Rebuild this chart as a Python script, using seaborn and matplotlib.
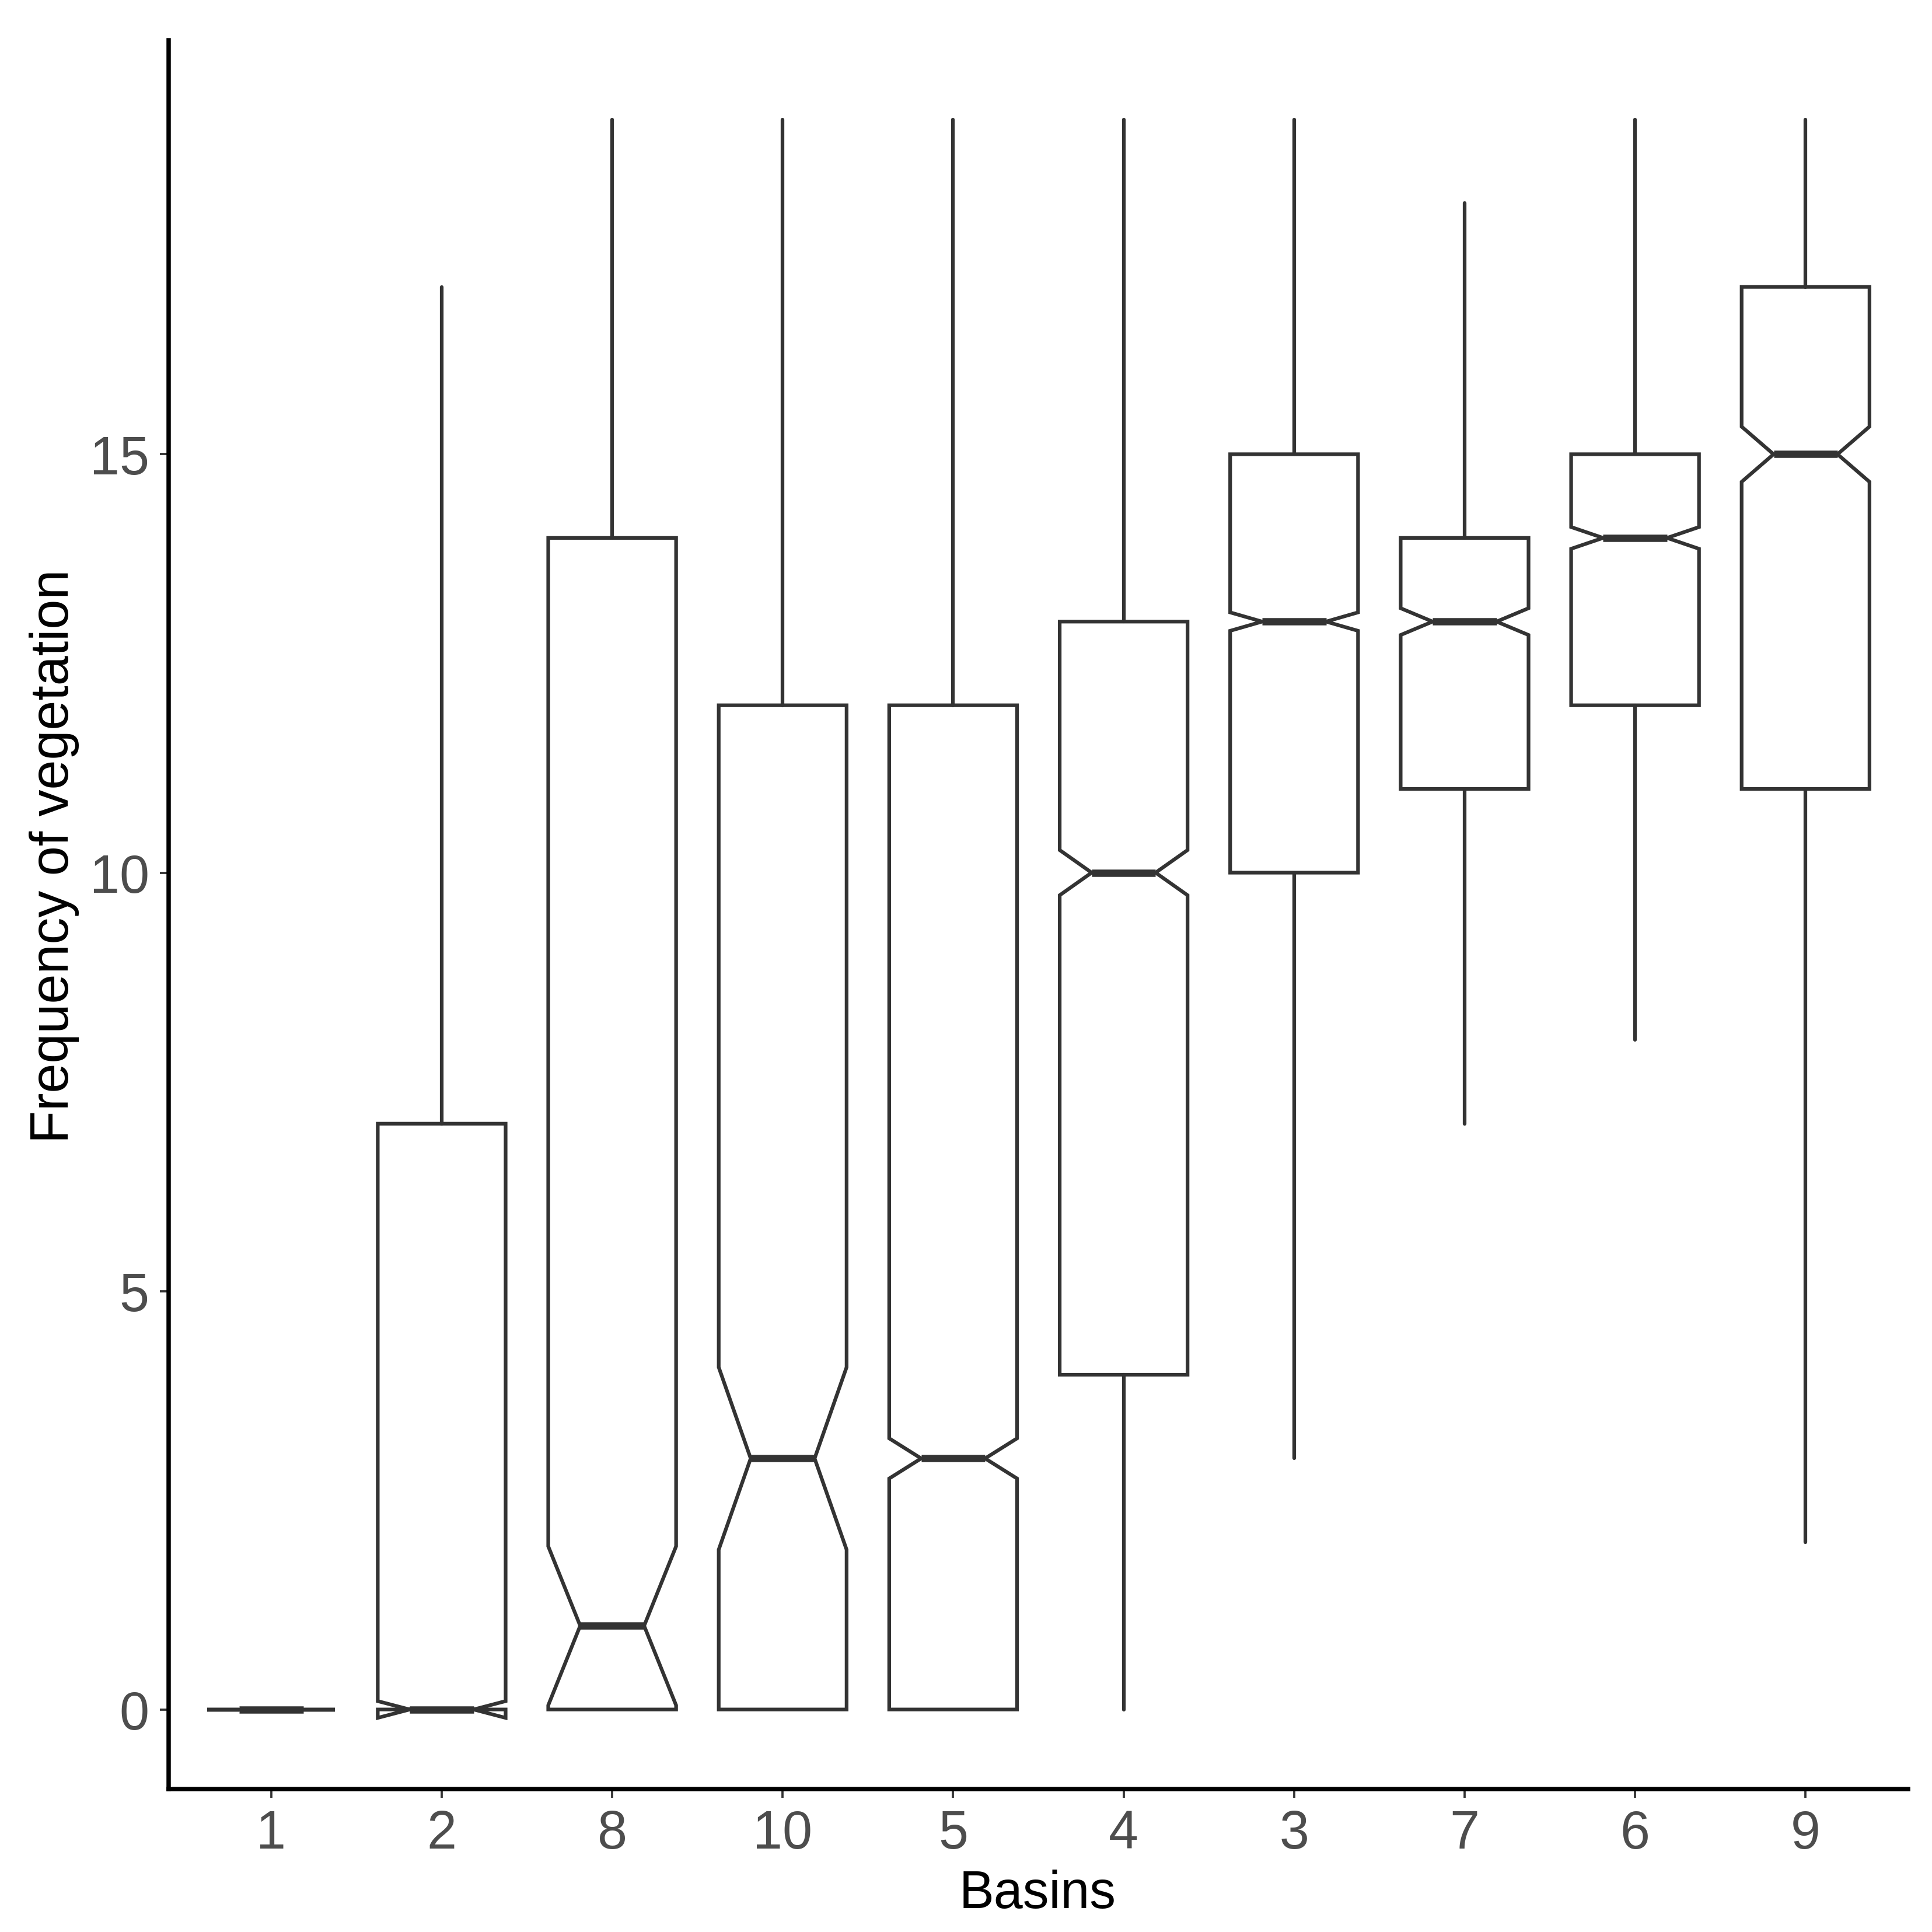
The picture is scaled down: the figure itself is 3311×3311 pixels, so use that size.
import numpy as np
import pandas as pd
import matplotlib
matplotlib.use("Agg")
import matplotlib.pyplot as plt
import seaborn as sns

# summary statistics (basins ordered by median)
basins = ["1", "2", "8", "10", "5", "4", "3", "7", "6", "9"]
q1 = [0, 0, 0, 0, 0, 4, 10, 11, 12, 11]
med = [0, 0, 1, 3, 3, 10, 13, 13, 14, 15]
q3 = [0, 7, 14, 12, 12, 13, 15, 14, 15, 17]
whislo = [0, 0, 0, 0, 0, 0, 3, 7, 8, 2]
whishi = [0, 17, 19, 19, 19, 19, 19, 18, 19, 19]
notch_half = [0.0, 0.1, 0.95, 1.09, 0.24, 0.27, 0.11, 0.16, 0.13, 0.33]

stats = pd.DataFrame({
    "Basin": basins, "q1": q1, "med": med, "q3": q3,
    "whislo": whislo, "whishi": whishi, "notch": notch_half,
})
stats["cilo"] = stats["med"] - stats["notch"]
stats["cihi"] = stats["med"] + stats["notch"]

sns.set_theme(style="ticks")
narrow = ["Liberation Sans Narrow", "DejaVu Sans Condensed", "Liberation Sans", "DejaVu Sans"]
plt.rcParams["font.family"] = narrow

fig = plt.figure(figsize=(11.04, 11.04), dpi=300)
ax = fig.add_axes([0.0874, 0.074, 0.8998, 0.905])

bxp_stats = [
    {"label": r.Basin, "q1": r.q1, "med": r.med, "q3": r.q3,
     "whislo": r.whislo, "whishi": r.whishi,
     "cilo": r.cilo, "cihi": r.cihi, "fliers": []}
    for r in stats.itertuples()
]

line_col = "#333333"
ax.bxp(
    bxp_stats,
    positions=np.arange(1, len(basins) + 1),
    widths=0.75,
    shownotches=True,
    showcaps=False,
    showfliers=False,
    patch_artist=True,
    boxprops=dict(facecolor="white", edgecolor=line_col, linewidth=1.5, joinstyle="miter"),
    whiskerprops=dict(color=line_col, linewidth=1.5),
    medianprops=dict(color=line_col, linewidth=3.0, solid_capstyle="butt"),
)

ax.set_xlim(0.4, 10.6)
ax.set_ylim(-0.95, 19.95)
ax.set_yticks([0, 5, 10, 15])
ax.set_xticks(np.arange(1, len(basins) + 1))
ax.set_xticklabels(basins)
sns.despine(ax=ax)
for side in ["left", "bottom"]:
    ax.spines[side].set_color("black")
    ax.spines[side].set_linewidth(1.8)
ax.tick_params(axis="both", colors=line_col, labelcolor="#4D4D4D",
               labelsize=22, length=3.6, width=0.9, pad=4.5)

fig.text(0.537, 0.0198, "Basins", ha="center", va="center", fontsize=21.5, color="black")
fig.text(0.028, 0.557, "Frequency of vegetation", ha="center", va="center",
         rotation=90, fontsize=22, color="black")

fig.savefig("out.png", dpi=300, facecolor="white")
